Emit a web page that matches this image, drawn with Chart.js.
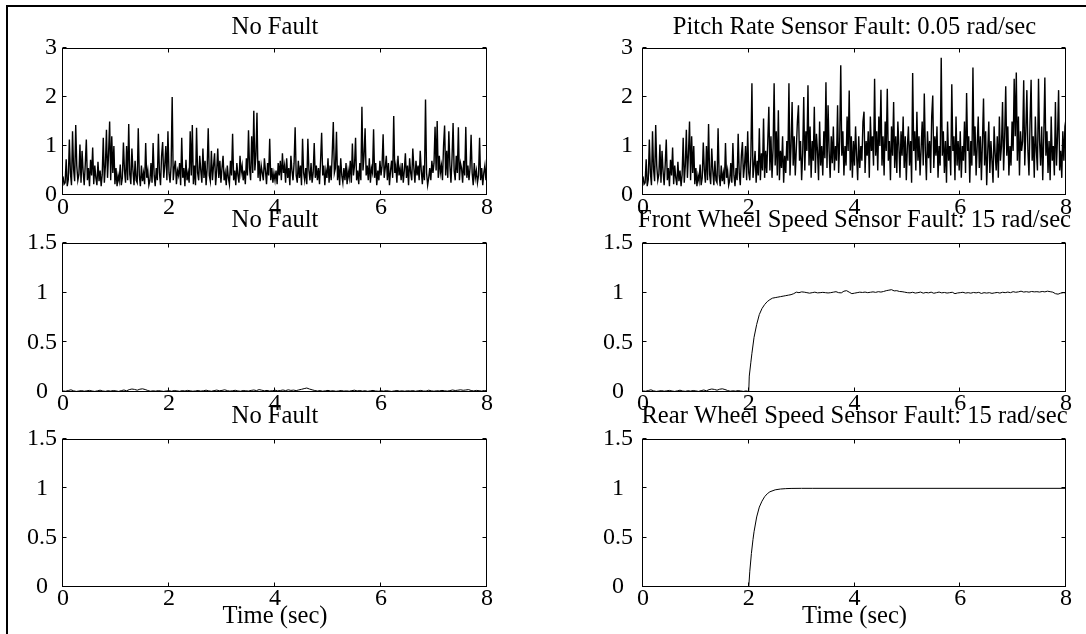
<!DOCTYPE html>
<html><head><meta charset="utf-8">
<script src="https://cdn.jsdelivr.net/npm/chart.js@4.4.1/dist/chart.umd.min.js"></script>
<style>
html,body{margin:0;padding:0;background:#fff;width:1086px;height:634px;overflow:hidden;position:relative}
canvas{position:absolute}
#frame{position:absolute;left:6px;top:5px;width:1200px;height:700px;border-left:2px solid #000;border-top:2px solid #000}
</style></head><body><div id="frame"></div>
<script>
// ---------- DATA ----------
const xTicks = [0, 2, 4, 6, 8];
const topYTicks = [0, 1, 2, 3];
const lowYTicks = [0, 0.5, 1, 1.5];
const titles = ["No Fault", "Pitch Rate Sensor Fault: 0.05 rad/sec",
  "No Fault", "Front Wheel Speed Sensor Fault: 15 rad/sec",
  "No Fault", "Rear Wheel Speed Sensor Fault: 15 rad/sec"];
const xLabel = "Time (sec)";

// residual, no fault (sample step 0.02 s, 0..8 s)
const noiseStep = 0.02;
const residualNoFault = [
  0.38,0.22,0.25,0.73,0.18,0.32,1.13,0.45,0.2,1.3,0.52,0.28,1.43,0.6,0.3,0.42,1.03,0.25,0.9,0.48,
  0.2,0.62,1.13,0.3,0.55,0.18,0.72,0.4,0.97,0.22,0.6,0.35,0.2,0.68,0.28,0.5,0.18,0.42,1.17,0.25,
  0.6,1.33,0.35,0.85,1.5,0.3,1.2,0.45,1.0,0.22,0.55,0.18,0.4,0.28,0.62,0.2,0.35,1.07,0.5,0.25,
  1.0,0.3,1.45,0.42,0.22,0.95,0.5,0.2,0.7,0.3,0.25,1.36,0.4,0.18,0.6,0.28,0.45,0.22,1.06,0.35,
  0.5,0.2,0.3,0.65,0.25,1.06,0.4,0.18,0.55,0.3,1.25,0.45,0.2,0.8,1.08,0.35,0.6,1.0,0.3,1.3,
  0.45,0.25,0.6,2.0,0.3,0.55,0.7,0.22,0.5,0.4,0.65,0.2,1.17,0.35,0.55,0.18,0.72,0.3,0.45,0.25,
  1.3,0.4,1.43,0.22,0.6,0.2,1.37,0.45,0.3,0.8,0.5,0.25,0.95,0.35,0.7,0.2,0.55,1.36,0.4,0.28,
  0.9,0.3,0.6,0.85,0.2,0.5,0.95,0.35,0.7,0.25,0.55,0.8,0.3,0.45,0.2,0.6,0.35,0.22,0.7,0.4,
  1.25,0.3,0.5,0.2,0.65,0.4,0.25,0.8,0.45,0.6,0.3,0.5,0.22,0.75,0.4,1.32,0.55,0.3,1.2,0.45,
  1.72,0.5,0.8,1.68,0.35,0.7,0.28,0.6,0.45,0.3,0.75,0.5,0.22,0.65,0.4,1.15,0.3,0.55,0.25,0.45,
  0.3,0.5,0.22,0.65,0.4,0.7,0.3,0.85,0.45,0.6,0.25,0.75,0.35,0.55,0.2,0.8,0.5,0.3,0.65,1.38,
  0.4,0.25,0.7,0.35,0.6,0.2,1.15,0.45,0.3,0.55,0.22,1.15,0.5,0.3,0.65,0.25,0.45,1.06,0.35,0.6,
  0.3,0.55,0.22,0.7,1.27,0.4,0.6,0.2,0.5,0.35,0.75,0.25,0.6,0.3,0.85,1.49,0.45,0.55,1.29,0.3,
  0.6,0.2,0.75,0.4,0.25,0.55,0.3,0.65,0.22,0.5,0.35,0.7,0.25,1.05,0.4,0.6,1.17,0.3,0.5,0.22,
  0.65,0.3,1.8,0.5,0.8,1.36,0.4,0.6,0.3,0.75,0.25,0.55,0.45,1.34,0.35,0.65,0.2,0.5,0.3,0.7,
  0.4,0.6,1.24,0.35,0.55,0.8,0.3,0.65,0.2,0.5,0.7,0.35,1.61,0.45,0.6,0.25,0.8,0.4,0.55,0.3,
  0.65,0.25,0.5,0.85,0.35,0.6,0.2,0.75,0.45,0.3,0.95,0.55,0.25,0.7,0.4,0.6,0.3,0.9,0.5,0.22,
  0.6,0.3,1.95,0.45,0.2,0.35,0.55,0.3,0.7,0.45,0.65,1.39,0.5,1.51,0.35,0.8,0.45,0.6,0.3,1.0,
  1.42,0.4,0.9,0.35,1.3,0.6,0.25,0.75,1.47,0.5,0.3,0.8,0.45,1.38,0.3,0.65,0.55,0.25,0.7,0.4,
  1.39,0.35,0.6,0.3,0.55,1.23,0.45,0.2,0.65,0.35,0.5,0.25,0.4,1.17,0.3,0.55,0.2,0.45,0.6,0.3,
  0.7
];
// pitch rate fault residual from 2.00 s to 8.00 s (step 0.02 s)
const pitchFaultStartIndex = 100;
const residualPitchFault = [
  0.45,0.3,0.8,2.28,0.35,0.6,0.9,0.25,0.7,0.4,1.36,0.3,0.85,0.5,1.56,0.35,0.9,0.45,1.1,1.8,
  0.5,1.2,0.35,0.95,2.28,0.6,1.3,0.4,1.73,0.3,0.9,0.55,1.2,0.25,0.8,0.45,1.1,0.7,2.28,0.4,
  1.0,1.9,0.6,1.2,0.4,0.95,1.5,1.83,0.7,1.1,0.3,0.85,2.0,0.5,1.3,0.9,2.24,0.6,1.4,0.35,
  1.1,0.7,1.8,0.45,1.25,0.9,0.3,1.5,0.6,1.0,0.4,1.3,0.75,2.3,0.55,1.83,0.9,0.35,1.2,0.65,
  1.4,0.5,1.0,0.7,1.83,0.45,1.1,2.65,0.8,1.3,0.4,1.0,0.6,1.6,0.9,2.13,0.5,1.2,0.35,1.1,
  0.6,1.4,0.8,0.3,1.2,0.55,1.0,0.7,1.5,1.7,0.45,1.1,0.8,1.3,0.35,1.6,0.9,1.2,0.6,2.37,
  0.8,1.3,0.5,1.6,1.0,2.15,0.6,1.2,0.4,1.5,0.9,2.17,0.7,1.1,0.3,1.4,0.8,1.9,0.55,1.2,
  0.45,1.5,1.0,0.35,1.3,0.8,1.6,0.55,1.2,0.3,1.0,1.4,0.6,1.1,0.25,2.49,0.9,1.3,0.5,1.7,
  0.7,1.2,0.4,0.95,1.5,0.6,2.07,0.9,0.3,1.3,0.75,1.1,0.45,1.6,2.03,0.55,1.2,0.8,1.4,0.35,
  1.0,0.6,2.8,0.8,1.3,0.45,1.1,0.25,1.5,0.7,1.0,0.4,2.26,0.9,1.2,0.3,1.6,0.6,1.1,0.5,
  1.3,0.35,1.0,0.7,1.5,0.45,2.08,0.9,1.2,0.25,1.1,0.6,2.6,0.8,1.4,0.4,1.0,1.6,0.55,1.2,
  0.3,1.1,1.97,0.6,1.3,0.2,0.9,1.5,0.45,1.1,0.7,0.25,1.4,0.85,0.5,1.2,0.35,1.6,0.7,1.0,
  1.9,0.5,1.2,2.22,0.8,1.4,0.4,1.0,0.6,1.5,0.9,2.37,1.2,2.5,0.7,1.6,0.4,1.3,0.9,1.1,
  2.34,0.6,1.3,2.14,0.9,0.4,1.5,2.35,0.7,1.2,0.35,1.6,0.9,0.5,2.37,1.1,0.6,1.4,0.3,1.2,
  2.4,0.8,1.3,0.45,1.1,0.3,1.6,0.7,1.0,0.4,1.9,0.6,1.2,2.14,0.5,0.9,0.35,1.3,0.7,1.4,
  1.55
];

// wheel speed residual, no fault (step 0.05 s, 0..8 s)
const wheelStep = 0.05;
const wheelNoFault = [
  0.01,0.008,0.015,0.022,0.012,0.006,0.01,0.014,0.008,0.012,
  0.016,0.01,0.006,0.012,0.018,0.01,0.007,0.013,0.009,0.015,
  0.011,0.006,0.014,0.02,0.012,0.024,0.03,0.026,0.018,0.028,
  0.032,0.025,0.015,0.008,0.012,0.009,0.014,0.01,0.006,0.011,
  0.013,0.008,0.015,0.011,0.007,0.014,0.01,0.016,0.012,0.008,
  0.011,0.015,0.009,0.013,0.018,0.012,0.008,0.014,0.019,0.013,
  0.016,0.022,0.014,0.009,0.013,0.017,0.011,0.008,0.015,0.012,
  0.01,0.016,0.02,0.014,0.024,0.018,0.012,0.016,0.01,0.013,
  0.018,0.012,0.015,0.02,0.014,0.022,0.016,0.019,0.014,0.021,
  0.027,0.034,0.04,0.03,0.022,0.015,0.01,0.014,0.008,0.012,
  0.016,0.01,0.013,0.007,0.011,0.015,0.009,0.012,0.008,0.014,
  0.018,0.011,0.015,0.009,0.013,0.007,0.012,0.016,0.01,0.008,
  0.012,0.009,0.014,0.01,0.006,0.011,0.015,0.009,0.012,0.008,
  0.013,0.01,0.014,0.008,0.012,0.016,0.01,0.009,0.018,0.012,
  0.008,0.013,0.011,0.016,0.012,0.009,0.014,0.02,0.015,0.018,
  0.022,0.017,0.02,0.024,0.015,0.011,0.016,0.013,0.01,0.015,
  0.012
];
// front wheel fault: pre-fault part = first 40 samples of wheelNoFault (0..1.95 s)
const frontPreFaultCount = 40;
const frontRiseTime  = [2.0, 2.01, 2.04, 2.06, 2.1, 2.15, 2.2, 2.25, 2.3, 2.35, 2.4, 2.45, 2.5, 2.55, 2.6, 2.65, 2.7, 2.75, 2.8, 2.85, 2.9, 2.95, 3.0];
const frontRiseValue = [0.005, 0.16, 0.3, 0.39, 0.55, 0.68, 0.78, 0.84, 0.88, 0.91, 0.93, 0.945, 0.95, 0.955, 0.96, 0.965, 0.97, 0.975, 0.98, 0.99, 1.005, 1.0, 1.008];
// steady part 3.05..8.00 s (step 0.05 s)
const frontSteadyStart = 3.05;
const frontSteady = [
  1.005,1.0,0.995,1.0,1.005,0.998,1.0,1.003,1.0,0.997,
  1.0,1.005,1.01,1.0,0.998,1.015,1.02,1.005,0.99,0.995,
  1.0,1.005,1.002,1.006,1.0,1.004,1.008,1.003,1.01,1.006,
  1.012,1.02,1.025,1.03,1.018,1.02,1.012,1.01,1.005,1.0,
  0.998,1.004,0.996,1.0,1.006,0.995,1.002,0.998,1.005,0.994,
  1.0,1.006,0.998,1.002,0.996,1.0,1.004,0.99,0.997,1.0,
  1.004,0.996,1.0,0.995,1.002,0.998,1.003,0.992,1.0,0.996,
  1.0,0.993,0.998,1.002,0.996,1.004,1.0,1.006,1.0,1.01,
  1.004,1.008,1.015,1.006,1.01,1.005,1.012,1.008,1.01,1.006,
  1.012,1.008,1.015,1.01,1.005,0.99,0.985,0.995,1.0,0.998
];
// rear wheel: no fault (flat zero) and fault
const rearNoFaultTime = [0, 8];
const rearNoFaultValue = [0, 0];
const rearFaultTime  = [0, 2.0, 2.02, 2.05, 2.08, 2.1, 2.15, 2.2, 2.25, 2.3, 2.35, 2.4, 2.5, 2.6, 2.7, 2.8, 3.0, 3.2, 8.0];
const rearFaultValue = [0, 0, 0.16, 0.34, 0.48, 0.56, 0.71, 0.81, 0.87, 0.915, 0.945, 0.965, 0.985, 0.993, 0.997, 0.999, 1.0, 1.0, 1.0];

// ---------- BUILD ----------
const FONT = "'Liberation Serif', 'Times New Roman', serif";
const gridPts = (arr, step, t0) => arr.map((v, i) => ({x: +((t0 || 0) + i * step).toFixed(4), y: v}));
const pairPts = (ts, vs) => ts.map((t, i) => ({x: t, y: vs[i]}));

const pitchSeries = residualNoFault.slice(0, pitchFaultStartIndex).concat(residualPitchFault);
const frontSeries = gridPts(wheelNoFault.slice(0, frontPreFaultCount), wheelStep)
  .concat(pairPts(frontRiseTime, frontRiseValue))
  .concat(gridPts(frontSteady, wheelStep, frontSteadyStart));

const TICK = 4;
const framePlugin = {
  id: 'matlabFrame',
  afterDatasetsDraw(chart, args, opts) {
    const {ctx, chartArea: a, scales: {x, y}} = chart;
    const L = Math.round(a.left) - 0.5, R = Math.round(a.right) - 0.5;
    const T = Math.round(a.top) + 0.5, B = Math.round(a.bottom) - 0.5;
    ctx.save();
    ctx.strokeStyle = '#000';
    ctx.lineWidth = 1;
    ctx.beginPath();
    x.ticks.forEach(t => {
      const p = Math.round(x.getPixelForValue(t.value)) - 0.5;
      ctx.moveTo(p, B); ctx.lineTo(p, B - TICK);
      ctx.moveTo(p, T); ctx.lineTo(p, T + TICK);
    });
    y.ticks.forEach(t => {
      const p = Math.round(y.getPixelForValue(t.value)) - 0.5;
      ctx.moveTo(L, p); ctx.lineTo(L + TICK, p);
      ctx.moveTo(R, p); ctx.lineTo(R - TICK, p);
    });
    ctx.stroke();
    ctx.strokeRect(L, T, R - L, B - T);
    // panel title centred over the plot area
    ctx.fillStyle = '#000';
    ctx.font = '24.6px ' + FONT;
    ctx.textAlign = 'center';
    ctx.textBaseline = 'middle';
    ctx.fillText(opts.text, (a.left + a.right) / 2, a.top - opts.offset);
    ctx.restore();
  }
};

function panel(cfg) {
  const cv = document.createElement('canvas');
  cv.width = cfg.w; cv.height = cfg.h;
  cv.style.left = cfg.left + 'px'; cv.style.top = cfg.top + 'px';
  document.body.appendChild(cv);
  const font = {family: FONT, size: 24, weight: 'normal', lineHeight: 1};
  new Chart(cv, {
    type: 'line',
    data: {datasets: [{data: cfg.data, borderColor: '#000', borderWidth: cfg.lw, pointRadius: 0, fill: false, tension: 0}]},
    options: {
      responsive: false, animation: false, events: [],
      layout: {padding: {left: 0, top: cfg.padTop, right: cfg.padRight, bottom: 0}},
      plugins: {
        legend: {display: false}, tooltip: {enabled: false}, title: {display: false},
        matlabFrame: {text: cfg.title, offset: cfg.titleOffset}
      },
      scales: {
        x: {
          type: 'linear', min: xTicks[0], max: xTicks[xTicks.length - 1],
          afterFit: s => { s.height = cfg.xAxisH; },
          afterBuildTicks: s => { s.ticks = xTicks.map(v => ({value: v})); },
          grid: {display: false, drawTicks: false}, border: {display: false},
          ticks: {color: '#000', font: font, padding: cfg.xTickPad, maxRotation: 0, autoSkip: false, callback: v => String(v)},
          title: {display: !!cfg.xTitle, text: cfg.xTitle || '', color: '#000', font: Object.assign({}, font, {size: 24.6}), padding: {top: 0, bottom: cfg.xTitlePad || 0}}
        },
        y: {
          type: 'linear', min: cfg.yTicks[0], max: cfg.yTicks[cfg.yTicks.length - 1],
          afterFit: s => { s.width = cfg.yAxisW; },
          afterBuildTicks: s => { s.ticks = cfg.yTicks.map(v => ({value: v})); },
          grid: {display: false, drawTicks: false}, border: {display: false},
          ticks: {color: '#000', font: font, padding: cfg.yTickPad, crossAlign: 'center', callback: v => String(v)}
        }
      }
    },
    plugins: [framePlugin]
  });
}

const cols = [
  {left: 0, w: 63 + 424 + 14, yAxisW: 63, yTickPad: 6, padRight: 14},
  {left: 543, w: 100 + 423 + 14, yAxisW: 100, yTickPad: 10, padRight: 14}
];
// padTop = space above plot; canvas top = plot top - padTop
const rows = [
  {top: 8, padTop: 40, h: 40 + 147 + 30, titleOffset: 20.5, xAxisH: 30, xTickPad: 1, lw: 1.4},
  {top: 203, padTop: 40, h: 40 + 149 + 30, titleOffset: 22.5, xAxisH: 30, xTickPad: 0, lw: 1},
  {top: 399, padTop: 40, h: 40 + 148 + 46, titleOffset: 22.5, xAxisH: 46, xTickPad: 0, xTitle: xLabel, xTitlePad: 4, lw: 1}
];
const datas = [
  gridPts(residualNoFault, noiseStep), gridPts(pitchSeries, noiseStep),
  gridPts(wheelNoFault, wheelStep), frontSeries,
  pairPts(rearNoFaultTime, rearNoFaultValue), pairPts(rearFaultTime, rearFaultValue)
];
const yTickSets = [topYTicks, lowYTicks, lowYTicks];
rows.forEach((r, ri) => cols.forEach((c, ci) => {
  panel(Object.assign({}, c, r, {title: titles[ri * 2 + ci], data: datas[ri * 2 + ci], yTicks: yTickSets[ri]}));
}));
</script>
</body></html>
